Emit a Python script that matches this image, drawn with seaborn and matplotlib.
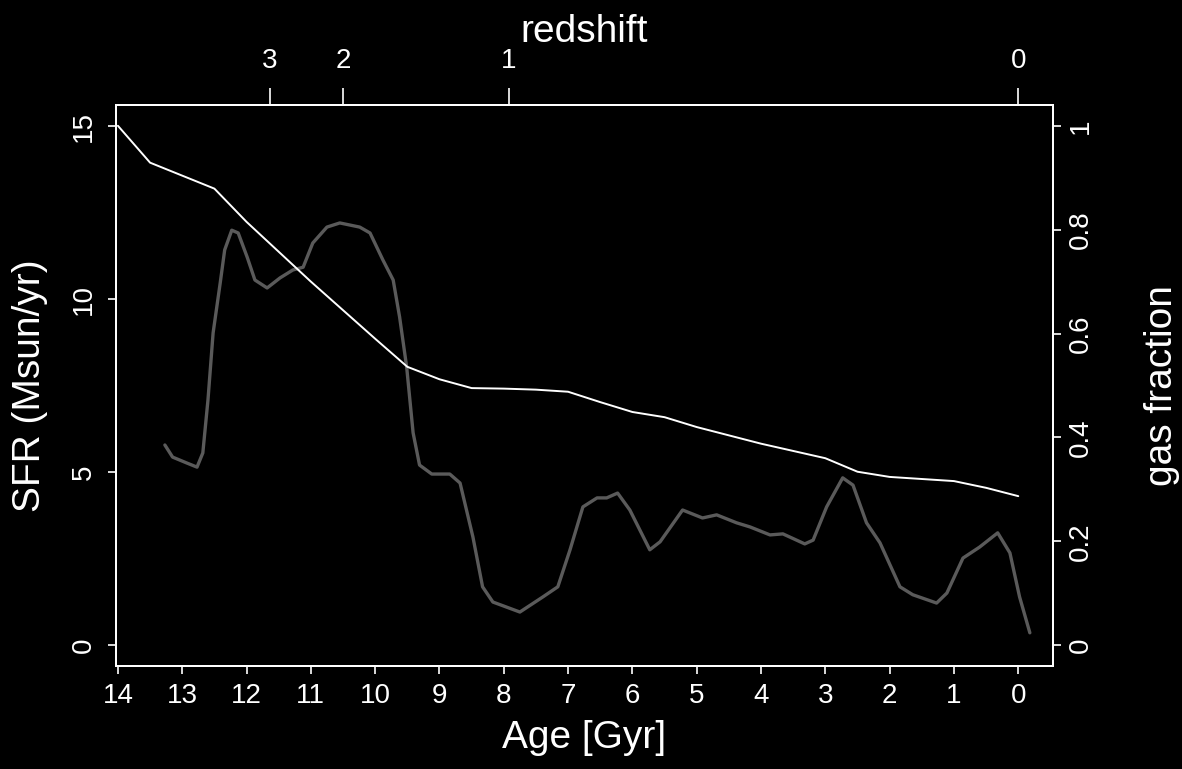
import numpy as np
import pandas as pd
import matplotlib
matplotlib.use('Agg')
import matplotlib.pyplot as plt
import seaborn as sns

# star formation history (grey curve), age in Gyr ago vs SFR
sfr_age = [13.27, 13.15, 12.93, 12.77, 12.68, 12.60, 12.52, 12.41, 12.34, 12.23,
           12.13, 11.99, 11.87, 11.68, 11.48, 11.28, 11.12, 10.97, 10.75, 10.55,
           10.24, 10.08, 9.88, 9.72, 9.62, 9.51, 9.41, 9.31, 9.12, 8.84,
           8.68, 8.48, 8.33, 8.17, 7.75, 7.39, 7.16, 6.97, 6.77, 6.55,
           6.40, 6.23, 6.04, 5.73, 5.57, 5.22, 4.91, 4.69, 4.38, 4.17,
           3.86, 3.66, 3.32, 3.19, 2.98, 2.73, 2.57, 2.36, 2.15, 1.84,
           1.64, 1.27, 1.11, 0.86, 0.60, 0.32, 0.13, -0.02, -0.18]
sfr = [5.78, 5.43, 5.26, 5.14, 5.55, 7.08, 9.02, 10.46, 11.42, 11.99,
       11.91, 11.21, 10.55, 10.32, 10.61, 10.84, 10.92, 11.62, 12.08, 12.20,
       12.08, 11.91, 11.13, 10.55, 9.48, 8.03, 6.13, 5.20, 4.94, 4.94,
       4.68, 3.12, 1.68, 1.24, 0.95, 1.39, 1.68, 2.75, 3.99, 4.25,
       4.25, 4.39, 3.90, 2.75, 2.98, 3.90, 3.67, 3.76, 3.53, 3.41,
       3.18, 3.21, 2.92, 3.03, 3.99, 4.83, 4.62, 3.53, 2.95, 1.68,
       1.45, 1.21, 1.50, 2.51, 2.83, 3.24, 2.66, 1.39, 0.35]

# gas fraction (white curve)
gas_age = [14.0, 13.5, 12.5, 12.0, 11.0, 10.0, 9.5, 9.0, 8.5, 8.0,
           7.5, 7.0, 6.5, 6.0, 5.5, 5.0, 4.5, 4.0, 3.5, 3.0,
           2.5, 2.0, 1.5, 1.0, 0.5, 0.0]
gas_frac = [1.000, 0.929, 0.879, 0.815, 0.700, 0.590, 0.536, 0.512, 0.495, 0.494,
            0.492, 0.488, 0.468, 0.449, 0.439, 0.420, 0.404, 0.388, 0.374, 0.360,
            0.334, 0.324, 0.320, 0.316, 0.303, 0.287]

# redshift axis: lookback age of each redshift tick
z_labels = ['3', '2', '1', '0']
z_age = [11.64, 10.50, 7.92, 0.0]

age_ticks = list(range(14, -1, -1))
sfr_ticks = [0, 5, 10, 15]
gas_ticks = [0, 0.2, 0.4, 0.6, 0.8, 1.0]
gas_ticklabels = ['0', '0.2', '0.4', '0.6', '0.8', '1']

sns.set_style('ticks', {'axes.facecolor': 'black', 'figure.facecolor': 'black',
                        'axes.edgecolor': 'white', 'text.color': 'white',
                        'xtick.color': 'white', 'ytick.color': 'white',
                        'axes.labelcolor': 'white'})
plt.rcParams['font.family'] = ['Liberation Sans', 'DejaVu Sans']

fig = plt.figure(figsize=(11.82, 7.69), dpi=100)
fig.patch.set_facecolor('black')
ax = fig.add_axes([116 / 1182, 1 - 666 / 769, 937 / 1182, 561 / 769])

sfr_df = pd.DataFrame({'age': sfr_age, 'sfr': sfr})
sns.lineplot(data=sfr_df, x='age', y='sfr', ax=ax, sort=False, estimator=None,
             color='#5a5a5a', lw=2.4)
ax.lines[-1].set_solid_joinstyle('round')
ax.set_xlim(14.03, -0.54)
ax.set_ylim(-0.61, 15.61)
ax.set_xticks(age_ticks)
ax.set_xticklabels([str(a) for a in age_ticks])
ax.set_yticks(sfr_ticks)
ax.set_xlabel('Age [Gyr]', fontsize=28, labelpad=8)
ax.set_ylabel('SFR (Msun/yr)', fontsize=28, labelpad=16)
ax.tick_params(axis='x', labelsize=20, length=6, width=1.2, pad=6, colors='white')
ax.tick_params(axis='y', labelsize=20, length=6, width=1.2, pad=8, colors='white',
               labelrotation=90)
for lab in ax.get_yticklabels():
    lab.set_va('center')

ax2 = ax.twinx()
gas_df = pd.DataFrame({'age': gas_age, 'gas': gas_frac})
sns.lineplot(data=gas_df, x='age', y='gas', ax=ax2, sort=False, estimator=None,
             color='white', lw=1.4)
ax2.set_ylim(-0.04, 1.04)
ax2.set_yticks(gas_ticks)
ax2.set_yticklabels(gas_ticklabels)
ax2.set_ylabel('gas fraction', fontsize=28, labelpad=36)
ax2.tick_params(axis='y', labelsize=20, length=6, width=1.2, pad=5, colors='white',
                labelrotation=90)
for lab in ax2.get_yticklabels():
    lab.set_va('center')

ax3 = ax.twiny()
ax3.set_xlim(ax.get_xlim())
ax3.set_xticks(z_age)
ax3.set_xticklabels(z_labels)
ax3.set_xlabel('redshift', fontsize=28, labelpad=5)
ax3.tick_params(axis='x', labelsize=20, length=12, width=1.2, pad=10, colors='white')

for a in (ax, ax2, ax3):
    for s in a.spines.values():
        s.set_color('white')
        s.set_linewidth(1.3)

fig.savefig('out.png', dpi=100, facecolor='black')
